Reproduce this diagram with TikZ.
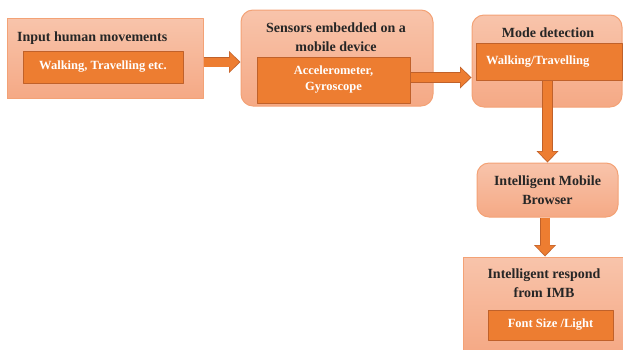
\documentclass[tikz,border=0pt]{standalone}
\usepackage{fontspec}
\setmainfont{Liberation Serif}
\usetikzlibrary{arrows.meta}
\definecolor{boxedge}{HTML}{F3A276}
\definecolor{boxtop}{HTML}{F8C4AB}
\definecolor{boxbottom}{HTML}{F5A985}
\definecolor{accent}{HTML}{ED7D31}
\definecolor{accentedge}{HTML}{C0612A}
\newcommand\flowarrow[2]{%
  \draw[flowback] #1 -- #2;
  \draw[flowfront] #1 -- #2;}
\begin{document}
\begin{tikzpicture}[x=1pt,y=-1pt,line join=round,font=\fontsize{14}{19}\selectfont\bfseries]
		\tikzset{outerbox/.style={draw=boxedge,line width=1pt,top color=boxtop,bottom color=boxbottom,inner sep=0pt},
			roundbox/.style={outerbox,rounded corners=12pt},
			innerbox/.style={draw=accentedge,line width=0.8pt,fill=accent,text=white,inner sep=0pt,align=center,font=\fontsize{12.5}{16}\selectfont\bfseries},
			title/.style={align=center,text=black!85,inner sep=0pt},
			flowback/.style={draw=accentedge,line width=10.5pt,-{Triangle[width=22pt,length=11.5pt,line width=0pt]}},
			flowfront/.style={draw=accent,line width=9pt,shorten >=1.4pt,shorten <=0.8pt,-{Triangle[width=19pt,length=9.5pt,line width=0pt]}}}
		\useasboundingbox (0,0) rectangle (623,349);
		% input
		\node[outerbox,minimum width=196pt,minimum height=80pt] (box1) at (105,58) {};
		\node[title,anchor=west] (lbl1) at (17,38) {Input human movements};
		\node[innerbox,minimum width=160pt,minimum height=32pt] (in1) at (103,67) {Walking, Travelling etc.};
		% sensors
		\node[roundbox,minimum width=192pt,minimum height=96pt] (box2) at (337,58) {};
		\node[title] (lbl2) at (336,37.5) {Sensors embedded on a\\mobile device};
		\node[innerbox,minimum width=153pt,minimum height=46pt] (in2) at (333.5,80) {Accelerometer,\\Gyroscope};
		% mode detection
		\node[roundbox,minimum width=150pt,minimum height=92pt] (box3) at (547,61) {};
		\node[title] (lbl3) at (548,33) {Mode detection};
		\node[innerbox,minimum width=146pt,minimum height=37pt,text width=126pt,align=left] (in3) at (549,61.5) {Walking/Travelling};
		% browser
		\node[roundbox,title,minimum width=141pt,minimum height=54pt] (box4) at (547.5,190) {Intelligent Mobile\\Browser};
		% respond
		\node[outerbox,minimum width=163pt,minimum height=95pt] (box5) at (544.5,304.5) {};
		\node[title] (lbl5) at (544,283.5) {Intelligent respond\\from IMB};
		\node[innerbox,minimum width=125pt,minimum height=30pt] (in5) at (550.5,325) {Font Size /Light};
		% arrows
		\flowarrow{([yshift=-4pt]box1.east)}{([yshift=-4pt]box1.east -| box2.west)}
		\flowarrow{([yshift=2.5pt]in2.east)}{([yshift=2.5pt]in2.east -| box3.west)}
		\flowarrow{(box4.north |- in3.south)}{(box4.north)}
		\flowarrow{([xshift=-2.5pt]box4.south)}{([xshift=-2.5pt]box4.south |- box5.north)}
\end{tikzpicture}
\end{document}
